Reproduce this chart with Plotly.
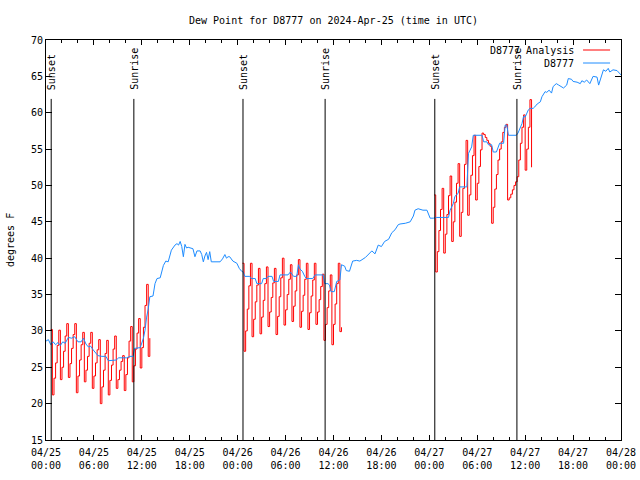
import pandas as pd
import plotly.graph_objects as go

BASE = pd.Timestamp("2024-04-25 00:00")

# ---- observed dew point (hours after 04/25 00:00 UTC, deg F) ----
obs_hours = [0.0, 0.3, 0.6, 0.9, 1.2, 1.5, 1.8, 2.1, 2.4, 2.8, 3.2, 3.6, 4.0, 4.4, 4.7, 5.0, 5.3, 5.6, 5.9, 6.1,
             6.5, 7.0, 7.5, 7.8, 8.3, 8.8, 9.1, 9.6, 10.1, 10.5, 10.9, 11.1, 11.8, 12.2, 12.4, 12.6, 12.8, 13.0,
             13.4, 13.65, 13.9, 14.3, 14.7, 15.0, 15.3, 15.7, 16.15, 16.4, 16.6, 16.8, 17.0, 17.2, 17.4, 17.6,
             17.8, 18.4, 18.65, 18.9, 19.3, 19.5, 19.7, 19.9, 20.1, 20.3, 20.5, 20.7, 21.0, 21.8, 22.1, 22.4,
             22.6, 22.8, 23.0, 23.4, 23.9, 24.2, 24.5, 24.7, 24.9, 25.5, 25.7, 26.2, 26.4, 27.0, 27.2, 27.6,
             27.8, 28.3, 28.5, 29.1, 29.3, 30.3, 30.6, 31.0, 31.4, 31.6, 31.8, 32.1, 32.4, 32.6, 33.4, 33.7,
             34.7, 34.9, 35.3, 35.5, 35.7, 36.1, 36.4, 36.8, 37.0, 37.4, 37.6, 38.0, 38.4, 38.9, 39.3, 40.0,
             40.8, 41.2, 41.6, 42.0, 42.4, 42.9, 43.3, 43.7, 44.1, 44.33, 45.0, 45.6, 46.0, 46.2, 46.6, 47.2,
             47.7, 48.1, 48.5, 48.9, 50.4, 50.6, 51.0, 51.2, 51.6, 51.8, 52.7, 52.9, 53.3, 53.5, 54.6, 54.8,
             55.2, 55.4, 55.8, 56.0, 56.4, 56.8, 57.3, 57.5, 57.7, 57.9, 58.9, 59.1, 59.6, 59.8, 60.0, 60.4,
             60.6, 61.0, 61.2, 61.5, 61.9, 62.1, 62.5, 62.7, 63.0, 63.3, 63.5, 63.9, 64.2, 64.6, 64.8, 65.2,
             65.4, 65.8, 66.0, 66.5, 66.9, 67.1, 67.4, 67.7, 68.1, 68.5, 69.0, 69.2, 69.5, 69.8, 70.1, 70.4,
             70.6, 71.0, 71.5, 71.9, 72.0]
obs_values = [28.6, 28.8, 28.1, 28.5, 28.1, 28.4, 28.0, 28.5, 28.3, 29.1, 29.0, 29.2, 28.5, 28.5, 29.0, 28.2, 27.8,
              27.9, 27.4, 27.1, 26.6, 26.5, 26.5, 25.9, 25.9, 26.0, 26.3, 26.3, 26.3, 26.5, 26.5, 27.6, 27.7,
              29.0, 30.1, 31.9, 33.0, 34.7, 34.8, 36.5, 37.2, 37.3, 39.0, 39.6, 39.5, 41.1, 41.8, 42.0, 41.8,
              42.3, 41.6, 40.2, 41.9, 41.4, 41.5, 41.3, 40.2, 41.0, 41.0, 40.5, 39.5, 40.3, 40.8, 39.8, 40.9,
              39.5, 39.5, 39.5, 39.9, 40.5, 40.0, 40.2, 40.2, 39.6, 39.3, 38.6, 38.2, 38.1, 37.5, 37.5, 37.2,
              37.2, 36.5, 36.5, 37.2, 37.2, 37.5, 37.5, 36.8, 36.8, 37.7, 37.7, 38.1, 37.5, 37.5, 39.1, 38.5,
              38.2, 37.5, 37.2, 37.2, 37.7, 37.7, 36.5, 36.5, 36.3, 35.4, 35.4, 36.8, 37.0, 39.1, 38.9, 38.3,
              38.2, 39.6, 39.7, 39.6, 40.1, 41.0, 40.6, 41.8, 41.6, 42.3, 42.6, 43.5, 43.9, 44.6, 44.7, 44.8,
              45.0, 45.8, 46.6, 46.8, 46.6, 46.6, 45.5, 45.5, 45.6, 45.6, 46.6, 47.5, 48.5, 48.9, 49.8, 49.8,
              54.4, 55.3, 56.9, 56.9, 56.0, 56.0, 55.6, 55.6, 54.6, 54.6, 55.8, 55.8, 58.3, 58.3, 56.9, 56.9,
              57.2, 58.5, 59.5, 59.4, 60.4, 60.6, 60.6, 60.8, 61.2, 61.5, 62.2, 62.9, 62.8, 63.1, 62.7, 63.6,
              64.0, 63.8, 63.6, 63.4, 63.8, 64.7, 64.6, 64.3, 64.2, 64.0, 64.4, 64.2, 64.5, 64.0, 65.0, 64.9,
              63.8, 64.8, 65.9, 65.7, 66.1, 65.6, 65.9, 65.8, 65.4, 65.2]

# ---- analysis runs (12-minute values) ----
ana_step_minutes = 12
ana1_start = "2024-04-25 00:36"
ana1_values = [30.2,
               21.2, 23.5, 25.6, 28.0, 30.1, 23.3, 25.0, 27.2, 29.3, 31.0,
               23.6, 25.5, 27.6, 29.5, 31.0, 21.5, 23.8, 26.0, 28.1, 29.8,
               23.0, 24.6, 26.5, 28.3, 29.8, 22.1, 23.8, 25.6, 27.4, 28.8,
               20.0, 22.3, 24.6, 26.9, 28.7, 21.2, 23.2, 25.3, 27.5, 29.3,
               22.1, 23.3, 24.6, 25.8, 26.6, 21.8, 24.0, 26.3, 28.6, 30.6,
               23.0, 25.2, 27.5, 29.7, 31.7, 24.9, 27.7, 30.5, 33.5, 36.4,
               26.5, 29.0]
ana2_start = "2024-04-26 00:36"
ana2_values = [39.3,
               27.2, 30.0, 33.0, 36.2, 39.3, 29.2, 31.6, 34.0, 36.3, 38.6,
               29.6, 31.9, 34.2, 36.5, 38.8, 30.6, 32.6, 34.6, 36.6, 38.6,
               29.5, 32.0, 34.7, 37.3, 40.0, 30.8, 32.9, 35.0, 37.1, 39.1,
               31.3, 33.4, 35.5, 37.7, 39.8, 30.5, 32.7, 34.9, 37.1, 39.3,
               30.2, 32.5, 34.8, 37.0, 39.3, 30.9, 32.6, 34.3, 36.1, 37.8,
               28.7, 30.9, 33.2, 35.5, 37.7, 28.1, 30.9, 33.7, 36.5, 39.3,
               29.9, 30.5]
ana3_start = "2024-04-27 00:36"
ana3_values = [48.7,
               38.1, 40.9, 43.8, 46.7, 49.6, 40.7, 43.3, 46.0, 48.6, 51.3,
               42.3, 45.0, 47.7, 50.3, 53.0, 43.0, 46.3, 49.6, 52.9, 56.2,
               45.9, 48.7, 51.4, 54.1, 56.9, 48.0, 50.3, 52.6, 54.9, 57.2,
               57.0, 56.6, 56.2, 55.8, 55.4, 44.8, 47.0, 49.5, 51.5, 53.5,
               55.0, 56.0, 57.3, 58.0, 58.4, 48.0, 48.3, 48.8, 49.4, 50.0,
               50.5, 51.2, 53.5, 55.8, 58.0, 59.7,
               52.1, 55.0, 58.0, 61.8, 52.5]

# ---- sun events ----
sun_labels = ["Sunset", "Sunrise", "Sunset", "Sunrise", "Sunset", "Sunrise"]
sun_times = ["2024-04-25 00:39", "2024-04-25 11:00", "2024-04-26 00:40",
             "2024-04-26 10:57", "2024-04-27 00:41", "2024-04-27 10:58"]

tick_hours = list(range(0, 73, 6))
tick_labels = ["04/25<br>00:00", "04/25<br>06:00", "04/25<br>12:00", "04/25<br>18:00",
               "04/26<br>00:00", "04/26<br>06:00", "04/26<br>12:00", "04/26<br>18:00",
               "04/27<br>00:00", "04/27<br>06:00", "04/27<br>12:00", "04/27<br>18:00",
               "04/28<br>00:00"]
y_ticks = [15, 20, 25, 30, 35, 40, 45, 50, 55, 60, 65, 70]

series_names = ["D8777 Analysis", "D8777"]
RED = "#ff0000"
BLUE = "#1e8cff"
FONT = "DejaVu Sans Mono"

obs_x = [BASE + pd.Timedelta(hours=h) for h in obs_hours]


def ana_times(start, vals):
    t0 = pd.Timestamp(start)
    return [t0 + pd.Timedelta(minutes=ana_step_minutes * i) for i in range(len(vals))]


fig = go.Figure()
for start, vals in [(ana1_start, ana1_values), (ana2_start, ana2_values), (ana3_start, ana3_values)]:
    fig.add_trace(go.Scatter(x=ana_times(start, vals), y=vals, mode="lines",
                             line=dict(color=RED, width=1, shape="hv"),
                             name=series_names[0], showlegend=False))
fig.add_trace(go.Scatter(x=obs_x, y=obs_values, mode="lines",
                         line=dict(color=BLUE, width=1),
                         name=series_names[1], showlegend=False))

shapes = []
annotations = []
for lab, t in zip(sun_labels, sun_times):
    shapes.append(dict(type="line", xref="x", yref="y", x0=t, x1=t, y0=15, y1=61.9,
                       line=dict(color="black", width=1)))
    annotations.append(dict(x=t, y=62.85, xref="x", yref="y", text=lab, textangle=-90,
                            showarrow=False, xanchor="center", yanchor="bottom",
                            font=dict(family=FONT, size=10, color="black")))

# gnuplot-style key (text right-aligned, sample line on the right)
key_rows = [(series_names[0], RED, 0.975), (series_names[1], BLUE, 0.9425)]
for name, col, yy in key_rows:
    annotations.append(dict(x=0.921, y=yy, xref="paper", yref="paper", text=name,
                            showarrow=False, xanchor="right", yanchor="middle",
                            font=dict(family=FONT, size=10, color="black")))
    shapes.append(dict(type="line", xref="paper", yref="paper", x0=0.934, x1=0.981,
                       y0=yy, y1=yy, line=dict(color=col, width=1)))

annotations.append(dict(x=-0.0626, y=0.5, xref="paper", yref="paper", text="degrees F",
                        textangle=-90, showarrow=False, xanchor="center", yanchor="middle",
                        font=dict(family=FONT, size=10, color="black")))

fig.update_layout(
    width=640, height=480,
    margin=dict(l=46, r=19, t=40, b=40, autoexpand=False),
    paper_bgcolor="white", plot_bgcolor="white",
    font=dict(family=FONT, size=10, color="black"),
    title=dict(text="Dew Point for D8777 on 2024-Apr-25 (time in UTC)",
               x=333.5 / 640, xanchor="center", y=1 - 20 / 480, yanchor="middle",
               font=dict(family=FONT, size=10, color="black")),
    shapes=shapes, annotations=annotations, showlegend=False,
)
fig.update_xaxes(
    range=[BASE, BASE + pd.Timedelta(hours=72)], automargin=False,
    tickvals=[BASE + pd.Timedelta(hours=h) for h in tick_hours], ticktext=tick_labels,
    ticks="inside", ticklen=5, tickcolor="black", tickwidth=1,
    minor=dict(dtick=2 * 3600 * 1000, ticks="inside", ticklen=3, tickcolor="black", showgrid=False),
    showline=True, linecolor="black", linewidth=1, mirror="ticks",
    showgrid=False, zeroline=False, tickangle=0, ticklabelstandoff=3,
    tickfont=dict(family=FONT, size=10, color="black"),
)
fig.update_yaxes(
    range=[15, 70], tickvals=y_ticks, automargin=False,
    ticks="inside", ticklen=6, tickcolor="black", tickwidth=1,
    showline=True, linecolor="black", linewidth=1, mirror="ticks",
    showgrid=False, zeroline=False,
    tickfont=dict(family=FONT, size=10, color="black"),
)

page_fix = (
    "var gd=document.getElementById('{plot_id}');"
    "var de=document.documentElement, b=document.body;"
    "de.style.margin='0';de.style.padding='0';de.style.overflow='hidden';"
    "de.style.width='640px';de.style.height='480px';"
    "b.style.margin='0';b.style.padding='0';b.style.overflow='hidden';"
    "b.style.width='640px';b.style.height='480px';"
    "gd.style.position='absolute';gd.style.left='0px';gd.style.top='0px';"
)

fig.write_html("out.html", config={"displayModeBar": False, "staticPlot": True},
               post_script=page_fix)
